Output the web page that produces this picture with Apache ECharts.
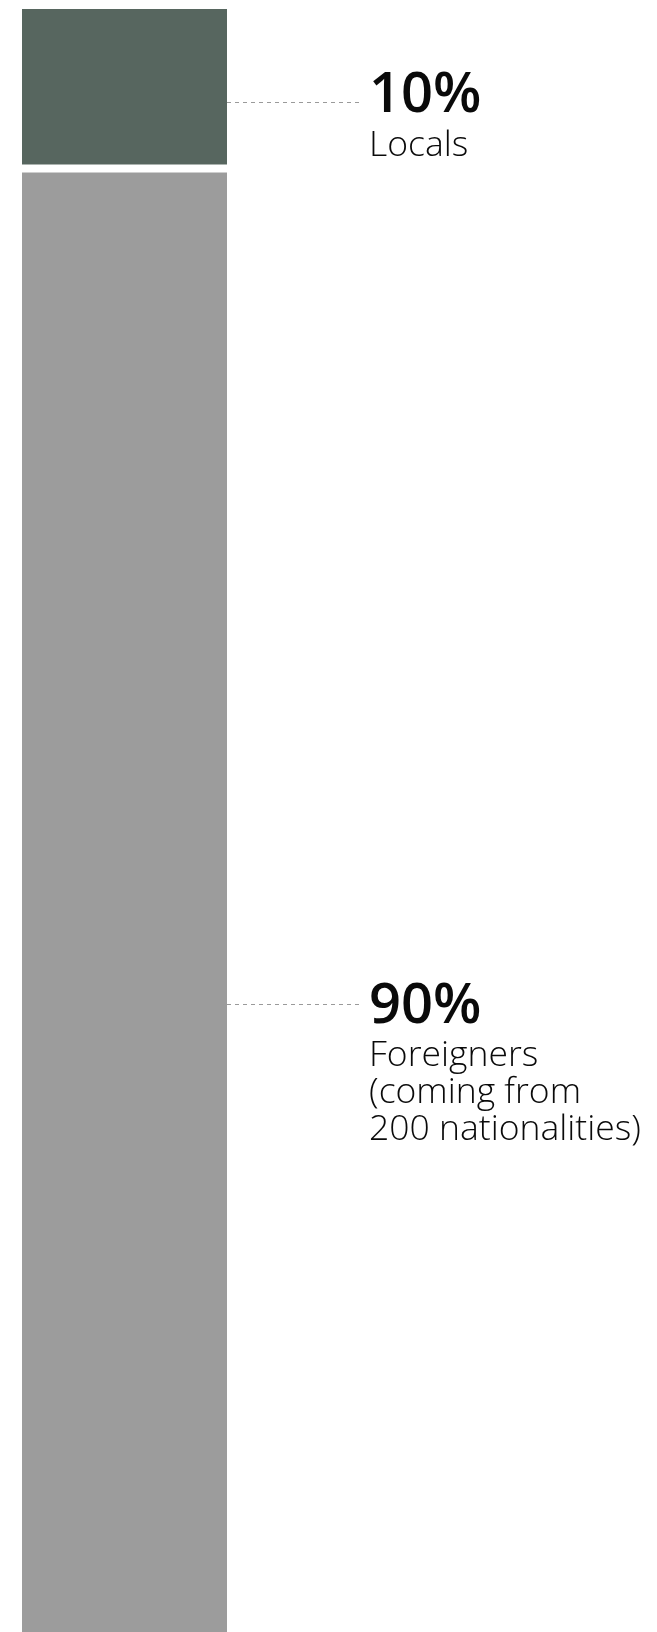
<!DOCTYPE html>
<html>
<head>
<meta charset="utf-8">
<title>Locals vs foreigners</title>
<script src="https://cdn.jsdelivr.net/npm/echarts@6/dist/echarts.min.js"></script>
<style>
  html, body { margin: 0; padding: 0; background: #fff; }
  #chart { width: 657px; height: 1632px; }
</style>
</head>
<body>
<div id="chart"></div>
<script>
// data
const categories = ["Residents"];
const seriesNames = ["Locals", "Foreigners"];
const localsShare = [10];
const foreignersShare = [90];
const labelTexts = ["Locals", "Foreigners\n(coming from\n200 nationalities)"];

const colors = ["#57665f", "#9c9c9c"];
const barWidth = 213;
const gapBorder = 4;
// label offsets inside each bar, and where the dashed leader sits
const labelOffsets = [[351, 61], [351, 808]];
const leaderOffsets = [97, 835];

const chart = echarts.init(document.getElementById("chart"));

const pctRich = {
  pct: {
    fontFamily: "Open Sans",
    fontSize: 56,
    fontWeight: 600,
    lineHeight: 61,
    color: "#0a0a0a"
  },
  name: {
    fontFamily: "Open Sans",
    fontSize: 35.5,
    fontWeight: 300,
    lineHeight: 37,
    color: "#0a0a0a"
  }
};

function makeLabel(i, value) {
  return {
    show: true,
    position: labelOffsets[i],
    formatter: () =>
      "{pct|" + value + "%}\n" +
      labelTexts[i].split("\n").map(t => "{name|" + t + "}").join("\n"),
    rich: pctRich
  };
}

const option = {
  animation: false,
  // the bar runs past the bottom edge, so don't squeeze the grid into the canvas
  grid: { left: 0, width: 249, top: 5, height: 1635, outerBoundsMode: "none" },
  xAxis: { type: "category", data: categories, show: false },
  yAxis: { type: "value", min: 0, max: 100, inverse: true, show: false },
  series: [
    {
      name: seriesNames[0],
      type: "bar",
      stack: "total",
      barWidth: barWidth,
      clip: false,
      data: localsShare,
      itemStyle: { color: colors[0], borderColor: "#fff", borderWidth: gapBorder },
      label: makeLabel(0, localsShare[0])
    },
    {
      name: seriesNames[1],
      type: "bar",
      stack: "total",
      barWidth: barWidth,
      clip: false,
      data: foreignersShare,
      itemStyle: { color: colors[1], borderColor: "#fff", borderWidth: gapBorder },
      label: makeLabel(1, foreignersShare[0])
    }
  ]
};

chart.setOption(option);

// dashed leaders from the bar edge to the labels
const barStarts = [0, localsShare[0]];
const center = chart.convertToPixel({ gridIndex: 0 }, [0, 0]);
const barRight = center[0] + barWidth / 2 - gapBorder;
const graphics = barStarts.map((start, i) => {
  const y = chart.convertToPixel({ gridIndex: 0 }, [0, start])[1] + leaderOffsets[i];
  const x2 = center[0] - barWidth / 2 + gapBorder / 2 + labelOffsets[i][0] - 11;
  return {
    type: "line",
    shape: { x1: barRight, y1: Math.round(y) + 0.5, x2: x2, y2: Math.round(y) + 0.5 },
    style: { stroke: "#9a9a9a", lineWidth: 1, lineDash: [4, 4] },
    z: 10
  };
});
chart.setOption({ graphic: graphics });
</script>
</body>
</html>
